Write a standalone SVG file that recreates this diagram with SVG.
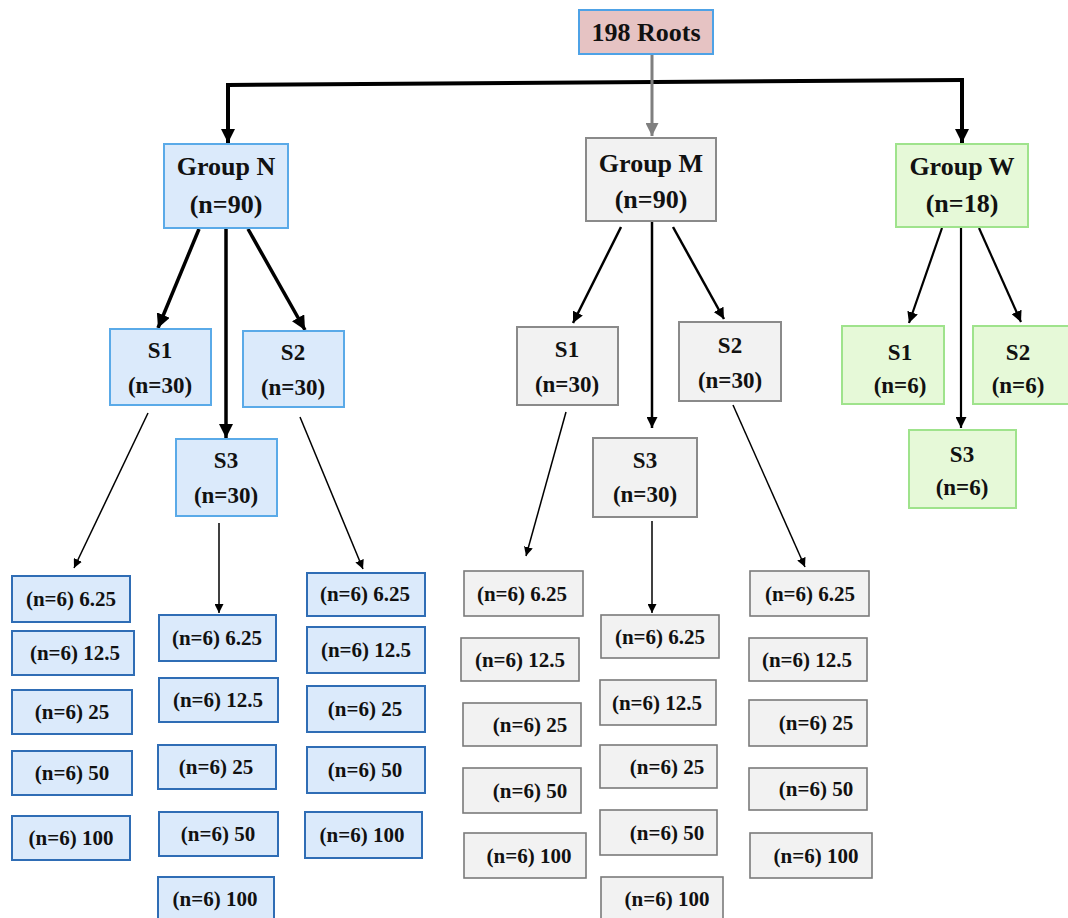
<svg xmlns="http://www.w3.org/2000/svg" width="1068" height="918" viewBox="0 0 1068 918">
<defs>
<style>
text{font-family:"Liberation Serif","Times New Roman",serif;font-weight:bold;fill:#111;text-anchor:middle}
.t25{font-size:26px}.t23{font-size:23px}.t21{font-size:21px}
.root{fill:#e6c3c3;stroke:#4ea2e6;stroke-width:2}
.bn{fill:#dbeafb;stroke:#5aaae8;stroke-width:2}
.ln{fill:#dbeafb;stroke:#2f6db5;stroke-width:2}
.bm{fill:#f2f2f2;stroke:#8a8a8a;stroke-width:2}
.lm{fill:#f2f2f2;stroke:#7a7a7a;stroke-width:1.6}
.bw{fill:#e6f9d8;stroke:#9fe38c;stroke-width:2}
.c{fill:none;stroke:#000}
</style>
<marker id="ak" viewBox="0 0 10 10" refX="10" refY="5" markerWidth="14" markerHeight="14" markerUnits="userSpaceOnUse" orient="auto"><path d="M0,0 L10,5 L0,10 z" fill="#000"/></marker>
<marker id="am" viewBox="0 0 10 10" refX="10" refY="5" markerWidth="11" markerHeight="11" markerUnits="userSpaceOnUse" orient="auto"><path d="M0,0 L10,5 L0,10 z" fill="#000"/></marker>
<marker id="as" viewBox="0 0 10 10" refX="10" refY="5" markerWidth="9" markerHeight="9" markerUnits="userSpaceOnUse" orient="auto"><path d="M0,0 L10,5 L0,10 z" fill="#000"/></marker>
<marker id="ag" viewBox="0 0 10 10" refX="10" refY="5" markerWidth="13" markerHeight="13" markerUnits="userSpaceOnUse" orient="auto"><path d="M0,0 L10,5 L0,10 z" fill="#7f7f7f"/></marker>
</defs>

<g id="connectors">
<polyline class="c" stroke-width="4" points="228,85 962,80"/>
<line x1="228" y1="83" x2="228" y2="143" class="c" stroke-width="4" marker-end="url(#ak)"/>
<line x1="962" y1="78" x2="962" y2="143" class="c" stroke-width="4" marker-end="url(#ak)"/>
<line x1="652" y1="54" x2="652" y2="136" stroke="#7f7f7f" stroke-width="3" marker-end="url(#ag)"/>
<line x1="199" y1="229" x2="158" y2="328" class="c" stroke-width="3.5" marker-end="url(#ak)"/>
<line x1="226" y1="229" x2="226" y2="438" class="c" stroke-width="3.5" marker-end="url(#ak)"/>
<line x1="248" y1="229" x2="305" y2="330" class="c" stroke-width="3.5" marker-end="url(#ak)"/>
<line x1="148" y1="413" x2="74" y2="568" class="c" stroke-width="1.5" marker-end="url(#as)"/>
<line x1="219" y1="523" x2="219" y2="613" class="c" stroke-width="1.5" marker-end="url(#as)"/>
<line x1="300" y1="417" x2="363" y2="569" class="c" stroke-width="1.5" marker-end="url(#as)"/>
<line x1="621" y1="227" x2="573" y2="323" class="c" stroke-width="2.5" marker-end="url(#am)"/>
<line x1="652" y1="222" x2="652" y2="428" class="c" stroke-width="2.5" marker-end="url(#am)"/>
<line x1="673" y1="227" x2="724" y2="319" class="c" stroke-width="2.5" marker-end="url(#am)"/>
<line x1="566" y1="412" x2="526" y2="556" class="c" stroke-width="1.5" marker-end="url(#as)"/>
<line x1="652" y1="521" x2="652" y2="613" class="c" stroke-width="1.5" marker-end="url(#as)"/>
<line x1="733" y1="405" x2="805" y2="567" class="c" stroke-width="1.5" marker-end="url(#as)"/>
<line x1="942" y1="228" x2="909" y2="323" class="c" stroke-width="2.2" marker-end="url(#am)"/>
<line x1="961" y1="228" x2="961" y2="428" class="c" stroke-width="2.2" marker-end="url(#am)"/>
<line x1="979" y1="228" x2="1021" y2="322" class="c" stroke-width="2.2" marker-end="url(#am)"/>
</g>

<g id="root"><rect class="root" x="579" y="10" width="134" height="44"/><text class="t25" x="646" y="41">198 Roots</text></g>

<g id="groupN"><rect class="bn" x="164" y="144" width="124" height="84"/><text class="t25" x="226" y="175">Group N</text><text class="t25" x="226" y="213">(n=90)</text></g>
<g id="groupM"><rect class="bm" x="586" y="138" width="130" height="83"/><text class="t25" x="651" y="172">Group M</text><text class="t25" x="651" y="208">(n=90)</text></g>
<g id="groupW"><rect class="bw" x="896" y="144" width="132" height="83"/><text class="t25" x="962" y="175">Group W</text><text class="t25" x="962" y="212">(n=18)</text></g>

<g id="N-S1"><rect class="bn" x="110" y="329" width="101" height="76"/><text class="t23" x="160" y="358">S1</text><text class="t23" x="160" y="393">(n=30)</text></g>
<g id="N-S2"><rect class="bn" x="243" y="331" width="101" height="76"/><text class="t23" x="293" y="360">S2</text><text class="t23" x="293" y="395">(n=30)</text></g>
<g id="N-S3"><rect class="bn" x="176" y="439" width="101" height="77"/><text class="t23" x="226" y="468">S3</text><text class="t23" x="226" y="503">(n=30)</text></g>

<g id="M-S1"><rect class="bm" x="517" y="327" width="101" height="78"/><text class="t23" x="567" y="357">S1</text><text class="t23" x="567" y="392">(n=30)</text></g>
<g id="M-S2"><rect class="bm" x="679" y="322" width="102" height="79"/><text class="t23" x="730" y="353">S2</text><text class="t23" x="730" y="388">(n=30)</text></g>
<g id="M-S3"><rect class="bm" x="593" y="438" width="104" height="79"/><text class="t23" x="645" y="468">S3</text><text class="t23" x="645" y="502">(n=30)</text></g>

<g id="W-S1"><rect class="bw" x="842" y="326" width="102" height="78"/><text class="t23" x="900" y="360">S1</text><text class="t23" x="900" y="393">(n=6)</text></g>
<g id="W-S2"><rect class="bw" x="973" y="326" width="100" height="78"/><text class="t23" x="1018" y="360">S2</text><text class="t23" x="1018" y="393">(n=6)</text></g>
<g id="W-S3"><rect class="bw" x="909" y="430" width="107" height="78"/><text class="t23" x="962" y="462">S3</text><text class="t23" x="962" y="495">(n=6)</text></g>

<g id="N-S1-6.25"><rect class="ln" x="12" y="576" width="118" height="46"/><text class="t21" x="71" y="606">(n=6) 6.25</text></g>
<g id="N-S1-12.5"><rect class="ln" x="12" y="631" width="122" height="44"/><text class="t21" x="75" y="660">(n=6) 12.5</text></g>
<g id="N-S1-25"><rect class="ln" x="12" y="690" width="120" height="44"/><text class="t21" x="72" y="719">(n=6) 25</text></g>
<g id="N-S1-50"><rect class="ln" x="12" y="751" width="120" height="44"/><text class="t21" x="72" y="780">(n=6) 50</text></g>
<g id="N-S1-100"><rect class="ln" x="12" y="816" width="118" height="44"/><text class="t21" x="71" y="845">(n=6) 100</text></g>

<g id="N-S3-6.25"><rect class="ln" x="159" y="615" width="117" height="46"/><text class="t21" x="217" y="645">(n=6) 6.25</text></g>
<g id="N-S3-12.5"><rect class="ln" x="159" y="678" width="119" height="44"/><text class="t21" x="218" y="707">(n=6) 12.5</text></g>
<g id="N-S3-25"><rect class="ln" x="158" y="745" width="118" height="44"/><text class="t21" x="216" y="774">(n=6) 25</text></g>
<g id="N-S3-50"><rect class="ln" x="159" y="812" width="119" height="44"/><text class="t21" x="218" y="841">(n=6) 50</text></g>
<g id="N-S3-100"><rect class="ln" x="158" y="877" width="116" height="46"/><text class="t21" x="215" y="906">(n=6) 100</text></g>

<g id="N-S2-6.25"><rect class="ln" x="307" y="573" width="118" height="43"/><text class="t21" x="365" y="601">(n=6) 6.25</text></g>
<g id="N-S2-12.5"><rect class="ln" x="307" y="627" width="118" height="46"/><text class="t21" x="366" y="657">(n=6) 12.5</text></g>
<g id="N-S2-25"><rect class="ln" x="307" y="686" width="118" height="46"/><text class="t21" x="365" y="716">(n=6) 25</text></g>
<g id="N-S2-50"><rect class="ln" x="307" y="747" width="118" height="46"/><text class="t21" x="365" y="777">(n=6) 50</text></g>
<g id="N-S2-100"><rect class="ln" x="305" y="812" width="117" height="46"/><text class="t21" x="362" y="842">(n=6) 100</text></g>

<g id="M-S1-6.25"><rect class="lm" x="464" y="571" width="119" height="45"/><text class="t21" x="522" y="601">(n=6) 6.25</text></g>
<g id="M-S1-12.5"><rect class="lm" x="461" y="638" width="118" height="43"/><text class="t21" x="520" y="667">(n=6) 12.5</text></g>
<g id="M-S1-25"><rect class="lm" x="463" y="703" width="118" height="43"/><text class="t21" x="530" y="732">(n=6) 25</text></g>
<g id="M-S1-50"><rect class="lm" x="463" y="768" width="118" height="45"/><text class="t21" x="530" y="798">(n=6) 50</text></g>
<g id="M-S1-100"><rect class="lm" x="464" y="833" width="122" height="45"/><text class="t21" x="529" y="863">(n=6) 100</text></g>

<g id="M-S3-6.25"><rect class="lm" x="601" y="615" width="118" height="43"/><text class="t21" x="660" y="644">(n=6) 6.25</text></g>
<g id="M-S3-12.5"><rect class="lm" x="600" y="680" width="116" height="45"/><text class="t21" x="657" y="710">(n=6) 12.5</text></g>
<g id="M-S3-25"><rect class="lm" x="600" y="745" width="117" height="43"/><text class="t21" x="667" y="774">(n=6) 25</text></g>
<g id="M-S3-50"><rect class="lm" x="600" y="810" width="117" height="45"/><text class="t21" x="667" y="840">(n=6) 50</text></g>
<g id="M-S3-100"><rect class="lm" x="601" y="877" width="122" height="46"/><text class="t21" x="667" y="906">(n=6) 100</text></g>

<g id="M-S2-6.25"><rect class="lm" x="750" y="571" width="119" height="45"/><text class="t21" x="810" y="601">(n=6) 6.25</text></g>
<g id="M-S2-12.5"><rect class="lm" x="749" y="638" width="118" height="43"/><text class="t21" x="807" y="667">(n=6) 12.5</text></g>
<g id="M-S2-25"><rect class="lm" x="749" y="700" width="118" height="46"/><text class="t21" x="816" y="730">(n=6) 25</text></g>
<g id="M-S2-50"><rect class="lm" x="749" y="768" width="118" height="42"/><text class="t21" x="816" y="796">(n=6) 50</text></g>
<g id="M-S2-100"><rect class="lm" x="750" y="833" width="122" height="45"/><text class="t21" x="816" y="863">(n=6) 100</text></g>
</svg>
